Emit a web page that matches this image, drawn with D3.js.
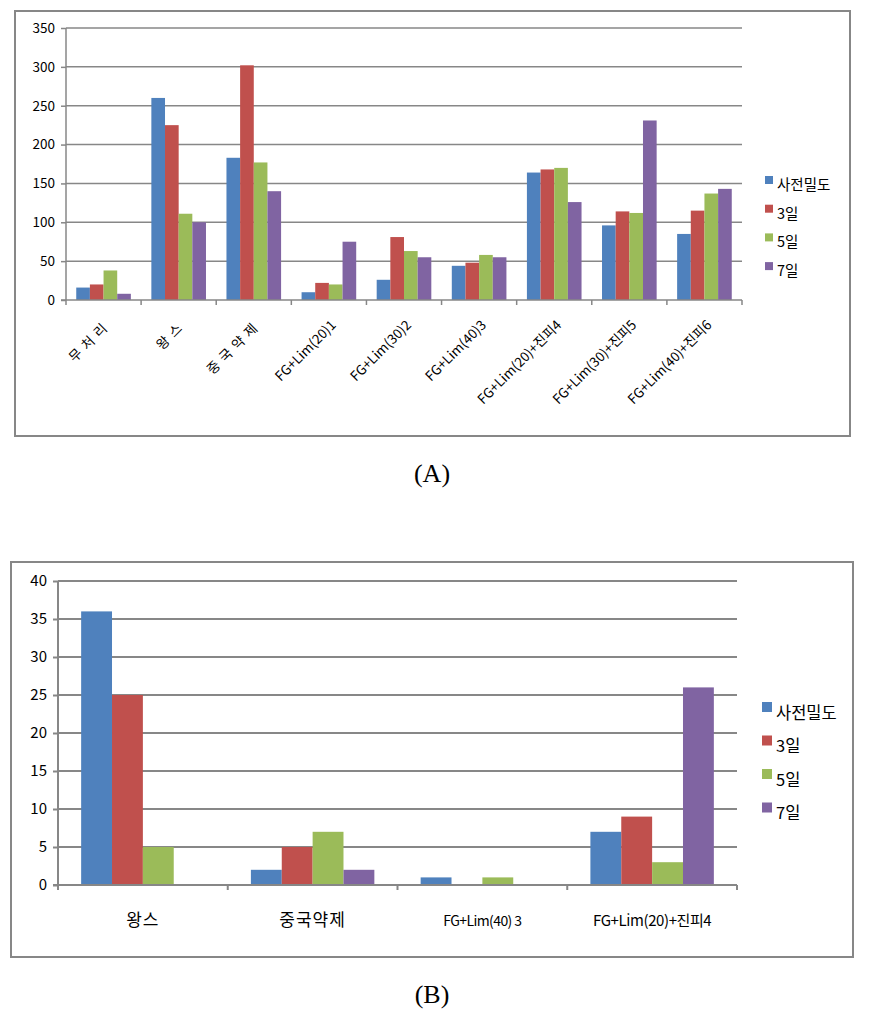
<!DOCTYPE html>
<html>
<head>
<meta charset="utf-8">
<script src="https://cdn.jsdelivr.net/npm/d3@7"></script>
<style>
  html, body { margin: 0; padding: 0; background: #fff; }
  svg { display: block; }
  text { font-family: "Noto Sans CJK KR", "Liberation Sans", sans-serif; fill: #000; }
  .cap { font-family: "Liberation Serif", "DejaVu Serif", serif; }
</style>
</head>
<body>
<svg id="chart" width="869" height="1030"></svg>
<script>
// ---------- data ----------
const seriesNames = ["사전밀도", "3일", "5일", "7일"];
const seriesColors = ["#4F81BD", "#C0504D", "#9BBB59", "#8064A2"];

const categoriesA = ["무처리", "왕스", "중국약제", "FG+Lim(20)1", "FG+Lim(30)2", "FG+Lim(40)3",
  "FG+Lim(20)+진피4", "FG+Lim(30)+진피5", "FG+Lim(40)+진피6"];
const preA  = [16, 260, 183, 10, 26, 44, 164, 96, 85];
const day3A = [20, 225, 302, 22, 81, 48, 168, 114, 115];
const day5A = [38, 111, 177, 20, 63, 58, 170, 112, 137];
const day7A = [8, 100, 140, 75, 55, 55, 126, 231, 143];
const ticksA = [0, 50, 100, 150, 200, 250, 300, 350];

const categoriesB = ["왕스", "중국약제", "FG+Lim(40) 3", "FG+Lim(20)+진피4"];
const preB  = [36, 2, 1, 7];
const day3B = [25, 5, 0, 9];
const day5B = [5, 7, 1, 3];
const day7B = [0, 2, 0, 26];
const ticksB = [0, 5, 10, 15, 20, 25, 30, 35, 40];

const svg = d3.select("#chart");
const GRID = "#878787";

function drawChart(o) {
  const g = svg.append("g");
  // outer frame
  g.append("rect").attr("x", o.frame[0]).attr("y", o.frame[1])
    .attr("width", o.frame[2] - o.frame[0]).attr("height", o.frame[3] - o.frame[1])
    .attr("fill", "none").attr("stroke", GRID).attr("stroke-width", 2);

  const x0 = d3.scaleBand().domain(o.categories).range([o.left, o.right]).paddingInner(0).paddingOuter(0);
  const x1 = d3.scaleBand().domain(seriesNames).range([0, x0.bandwidth()]).paddingInner(0).paddingOuter(0.75);
  const y = d3.scaleLinear().domain([o.ticks[0], o.ticks[o.ticks.length - 1]]).range([o.bottom, o.top]);

  // gridlines
  g.append("g").selectAll("line").data(o.ticks.filter(t => t !== 0)).join("line")
    .attr("x1", o.left).attr("x2", o.right)
    .attr("y1", d => y(d)).attr("y2", d => y(d))
    .attr("stroke", GRID).attr("stroke-width", o.gridW);

  // bars
  const rows = o.categories.map((c, i) => ({ c, vals: o.series.map(s => s[i]) }));
  g.append("g").selectAll("g").data(rows).join("g")
    .attr("transform", d => `translate(${x0(d.c)},0)`)
    .selectAll("rect").data(d => d.vals.map((v, k) => ({ v, k })).filter(e => e.v > 0)).join("rect")
    .attr("x", d => x1(seriesNames[d.k]))
    .attr("width", x1.bandwidth())
    .attr("y", d => y(d.v))
    .attr("height", d => y(0) - y(d.v))
    .attr("fill", d => seriesColors[d.k]);

  // y axis
  const yAxis = d3.axisLeft(y).tickValues(o.ticks).tickSize(5).tickPadding(6);
  const ya = g.append("g").attr("transform", `translate(${o.left},0)`).call(yAxis);
  ya.select(".domain").attr("stroke", GRID).attr("stroke-width", o.gridW)
    .attr("d", `M0,${o.top}V${o.bottom}`);
  ya.selectAll(".tick line").attr("stroke", GRID).attr("stroke-width", o.gridW);
  ya.selectAll(".tick text").attr("font-size", o.yFont).style("font-family", "'Noto Sans CJK KR', sans-serif").attr("fill", "#000");

  // x axis: line + boundary ticks
  const xAxisG = g.append("g");
  xAxisG.append("line").attr("x1", o.left - 5).attr("x2", o.right)
    .attr("y1", o.bottom).attr("y2", o.bottom).attr("stroke", GRID).attr("stroke-width", o.gridW);
  const bounds = o.categories.map(c => x0(c)).concat([o.right]);
  xAxisG.selectAll("line.tk").data(bounds).join("line").attr("class", "tk")
    .attr("x1", d => d).attr("x2", d => d)
    .attr("y1", o.bottom).attr("y2", o.bottom + 5)
    .attr("stroke", GRID).attr("stroke-width", o.gridW);

  // x labels
  const lab = g.append("g").selectAll("text").data(o.categories).join("text")
    .text(d => d);
  if (o.rotate) {
    lab.attr("transform", d => `translate(${x0(d) + x0.bandwidth() / 2 + 8},${o.bottom + 26}) rotate(-45)`)
      .attr("text-anchor", "end")
      .attr("font-size", o.xFont)
      .style("letter-spacing", (d, i) => i < 3 ? "5px" : "0px");
  } else {
    lab.attr("x", d => x0(d) + x0.bandwidth() / 2)
      .attr("y", o.bottom + o.xLabelDy)
      .attr("text-anchor", "middle")
      .attr("font-size", (d, i) => o.xFonts[i])
      .style("letter-spacing", (d, i) => o.xSpacing[i]);
  }

  // legend
  const lg = g.append("g");
  seriesNames.forEach((s, k) => {
    const cy = o.legY + k * o.legStep;
    lg.append("rect").attr("x", o.legX).attr("y", cy - o.legSq - 1)
      .attr("width", o.legSq).attr("height", o.legSq).attr("fill", seriesColors[k]);
    lg.append("text").attr("x", o.legX + o.legSq + 4).attr("y", cy)
      .attr("dy", "0.35em").attr("font-size", o.legFont).text(s);
  });

  // caption
  svg.append("text").attr("class", "cap").attr("x", o.capX).attr("y", o.capY)
    .attr("text-anchor", "middle").attr("font-size", 26).text(o.caption);
}

drawChart({
  frame: [15, 11, 850, 436],
  categories: categoriesA, series: [preA, day3A, day5A, day7A], ticks: ticksA,
  left: 66, right: 742, top: 28, bottom: 300, gridW: 1.5,
  yFont: 13.5, xFont: 13.5, rotate: true,
  legX: 765, legY: 185, legStep: 28.7, legSq: 8, legFont: 14.5,
  caption: "(A)", capX: 432, capY: 482
});

drawChart({
  frame: [11, 562, 853, 957],
  categories: categoriesB, series: [preB, day3B, day5B, day7B], ticks: ticksB,
  left: 58, right: 737, top: 581, bottom: 885, gridW: 2,
  yFont: 15, rotate: false, xLabelDy: 41,
  xFonts: [17, 17, 14, 15], xSpacing: ["1px", "1px", "-0.6px", "-0.4px"],
  legX: 762, legY: 713, legStep: 33.5, legSq: 10, legFont: 16.5,
  caption: "(B)", capX: 432, capY: 1003
});
</script>
</body>
</html>
